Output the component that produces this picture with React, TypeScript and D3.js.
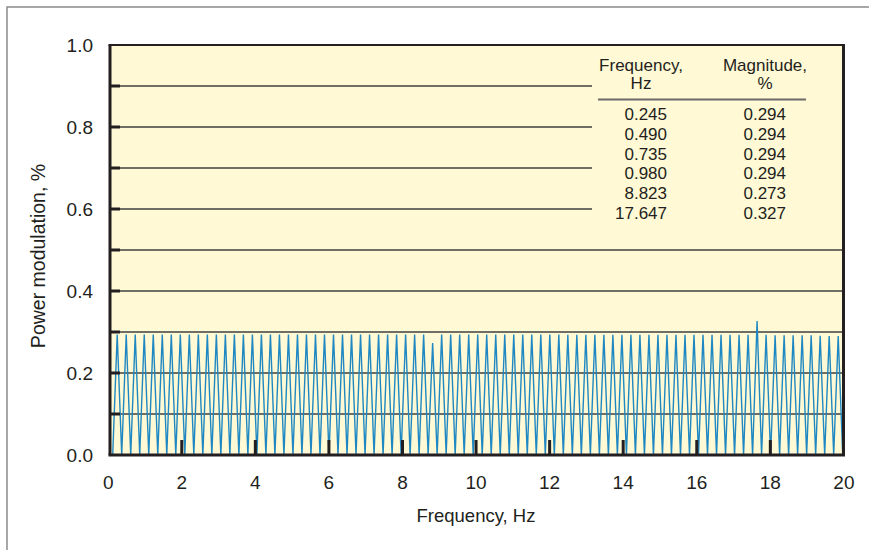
import React from "react";
import * as d3 from "d3";

const yTickValues = [0, 0.2, 0.4, 0.6, 0.8, 1.0];
const yGridValues = [0.1, 0.2, 0.3, 0.4, 0.5, 0.6, 0.7, 0.8, 0.9];
const xTickValues = [0, 2, 4, 6, 8, 10, 12, 14, 16, 18, 20];
const fundamentalHz = 0.245;
// Peak magnitude (%) at k * 0.245 Hz, k = 1..82
const peakMagnitudes = [
  0.294, 0.294, 0.294, 0.294, 0.294, 0.294, 0.294, 0.294, 0.294, 0.294,
  0.294, 0.294, 0.294, 0.294, 0.294, 0.294, 0.294, 0.294, 0.294, 0.294,
  0.294, 0.294, 0.294, 0.294, 0.294, 0.294, 0.294, 0.294, 0.294, 0.294,
  0.294, 0.294, 0.294, 0.294, 0.294, 0.273, 0.294, 0.294, 0.294, 0.294,
  0.294, 0.294, 0.294, 0.294, 0.294, 0.294, 0.294, 0.294, 0.294, 0.294,
  0.293, 0.293, 0.293, 0.293, 0.293, 0.293, 0.293, 0.293, 0.293, 0.293,
  0.293, 0.293, 0.293, 0.293, 0.293, 0.293, 0.293, 0.293, 0.293, 0.293,
  0.293, 0.327, 0.293, 0.292, 0.292, 0.292, 0.292, 0.292, 0.291, 0.29,
  0.29, 0.29,
];
const tableFreq = ["0.245", "0.490", "0.735", "0.980", "8.823", "17.647"];
const tableMag = ["0.294", "0.294", "0.294", "0.294", "0.273", "0.327"];

const W = 869;
const H = 550;
const FONT = "'Liberation Sans', Arial, Helvetica, sans-serif";

export default function App() {
  const x = d3.scaleLinear().domain([0, 20]).range([108.2, 843.9]);
  const y = d3.scaleLinear().domain([0, 1]).range([455, 45]);
  const left = 110, right = 843.5, top = 45, bottom = 455;

  const pts: [number, number][] = [[0, 0]];
  peakMagnitudes.forEach((m, i) => {
    const f = (i + 1) * fundamentalHz;
    pts.push([f - fundamentalHz / 2, 0]);
    pts.push([f, m]);
  });
  pts.push([(peakMagnitudes.length + 0.5) * fundamentalHz, 0]);
  const line = d3
    .line<[number, number]>()
    .x((d) => x(d[0]))
    .y((d) => y(d[1]));

  const rowY = [114, 134, 153.7, 173.3, 193.2, 212.7];

  return (
    <svg
      width={W}
      height={H}
      style={{ position: "absolute", left: 0, top: 0, display: "block" }}
      fontFamily={FONT}
    >
      <rect x={0} y={0} width={W} height={H} fill="#fff" />
      <rect x={7} y={7} width={W + 20} height={H + 20} fill="none" stroke="#8a8a8a" strokeWidth={1.5} />
      <defs>
        <clipPath id="plotclip">
          <rect x={left} y={top} width={right - left} height={bottom - top + 4} />
        </clipPath>
      </defs>
      <rect x={left} y={top} width={right - left} height={bottom - top} fill="#fff9d5" />
      {yGridValues.map((v) => (
        <line key={v} x1={left} x2={right} y1={y(v)} y2={y(v)} stroke="#3f3f3f" strokeWidth={1.3} />
      ))}
      {/* table background */}
      <rect x={592} y={top + 1} width={right - 592} height={176} fill="#fff9d5" />
      <path
        d={line(pts) || ""}
        fill="none"
        stroke="#1f88c2"
        strokeWidth={1.4}
        clipPath="url(#plotclip)"
      />
      {yGridValues.map((v) => (
        <line key={"t" + v} x1={left} x2={120} y1={y(v)} y2={y(v)} stroke="#231f20" strokeWidth={3} />
      ))}
      {xTickValues.slice(1, -1).map((v) => (
        <line key={"xt" + v} x1={x(v)} x2={x(v)} y1={bottom} y2={bottom - 15} stroke="#231f20" strokeWidth={3} />
      ))}
      <line x1={left - 1.5} x2={right + 1.5} y1={top} y2={top} stroke="#231f20" strokeWidth={2} />
      <line x1={left - 1.5} x2={right + 1.5} y1={bottom} y2={bottom} stroke="#231f20" strokeWidth={3} />
      <line x1={left} x2={left} y1={top} y2={bottom} stroke="#231f20" strokeWidth={3} />
      <line x1={right} x2={right} y1={top} y2={bottom} stroke="#231f20" strokeWidth={3} />

      {yTickValues.map((v) => (
        <text key={"yl" + v} x={93} y={y(v)} dy="0.36em" textAnchor="end" fontSize={19} fill="#231f20">
          {v.toFixed(1)}
        </text>
      ))}
      {xTickValues.map((v) => (
        <text key={"xl" + v} x={x(v)} y={482} dy="0.36em" textAnchor="middle" fontSize={19} fill="#231f20">
          {v}
        </text>
      ))}
      <text x={476} y={515} dy="0.36em" textAnchor="middle" fontSize={18.5} fill="#231f20">
        Frequency, Hz
      </text>
      <text
        transform={`translate(38,256) rotate(-90)`}
        dy="0.36em"
        textAnchor="middle"
        fontSize={19.5}
        fill="#231f20"
      >
        Power modulation, %
      </text>

      {/* table */}
      <g fontSize={17} fill="#231f20">
        <text x={641} y={65} dy="0.36em" textAnchor="middle">Frequency,</text>
        <text x={641} y={83} dy="0.36em" textAnchor="middle">Hz</text>
        <text x={765} y={65} dy="0.36em" textAnchor="middle">Magnitude,</text>
        <text x={765} y={83} dy="0.36em" textAnchor="middle">%</text>
        <line x1={598} x2={806} y1={99.5} y2={99.5} stroke="#6b6b6b" strokeWidth={2} />
        {tableFreq.map((f, i) => (
          <text key={"f" + i} x={667} y={rowY[i]} dy="0.36em" textAnchor="end">{f}</text>
        ))}
        {tableMag.map((m, i) => (
          <text key={"m" + i} x={786} y={rowY[i]} dy="0.36em" textAnchor="end">{m}</text>
        ))}
      </g>
    </svg>
  );
}
